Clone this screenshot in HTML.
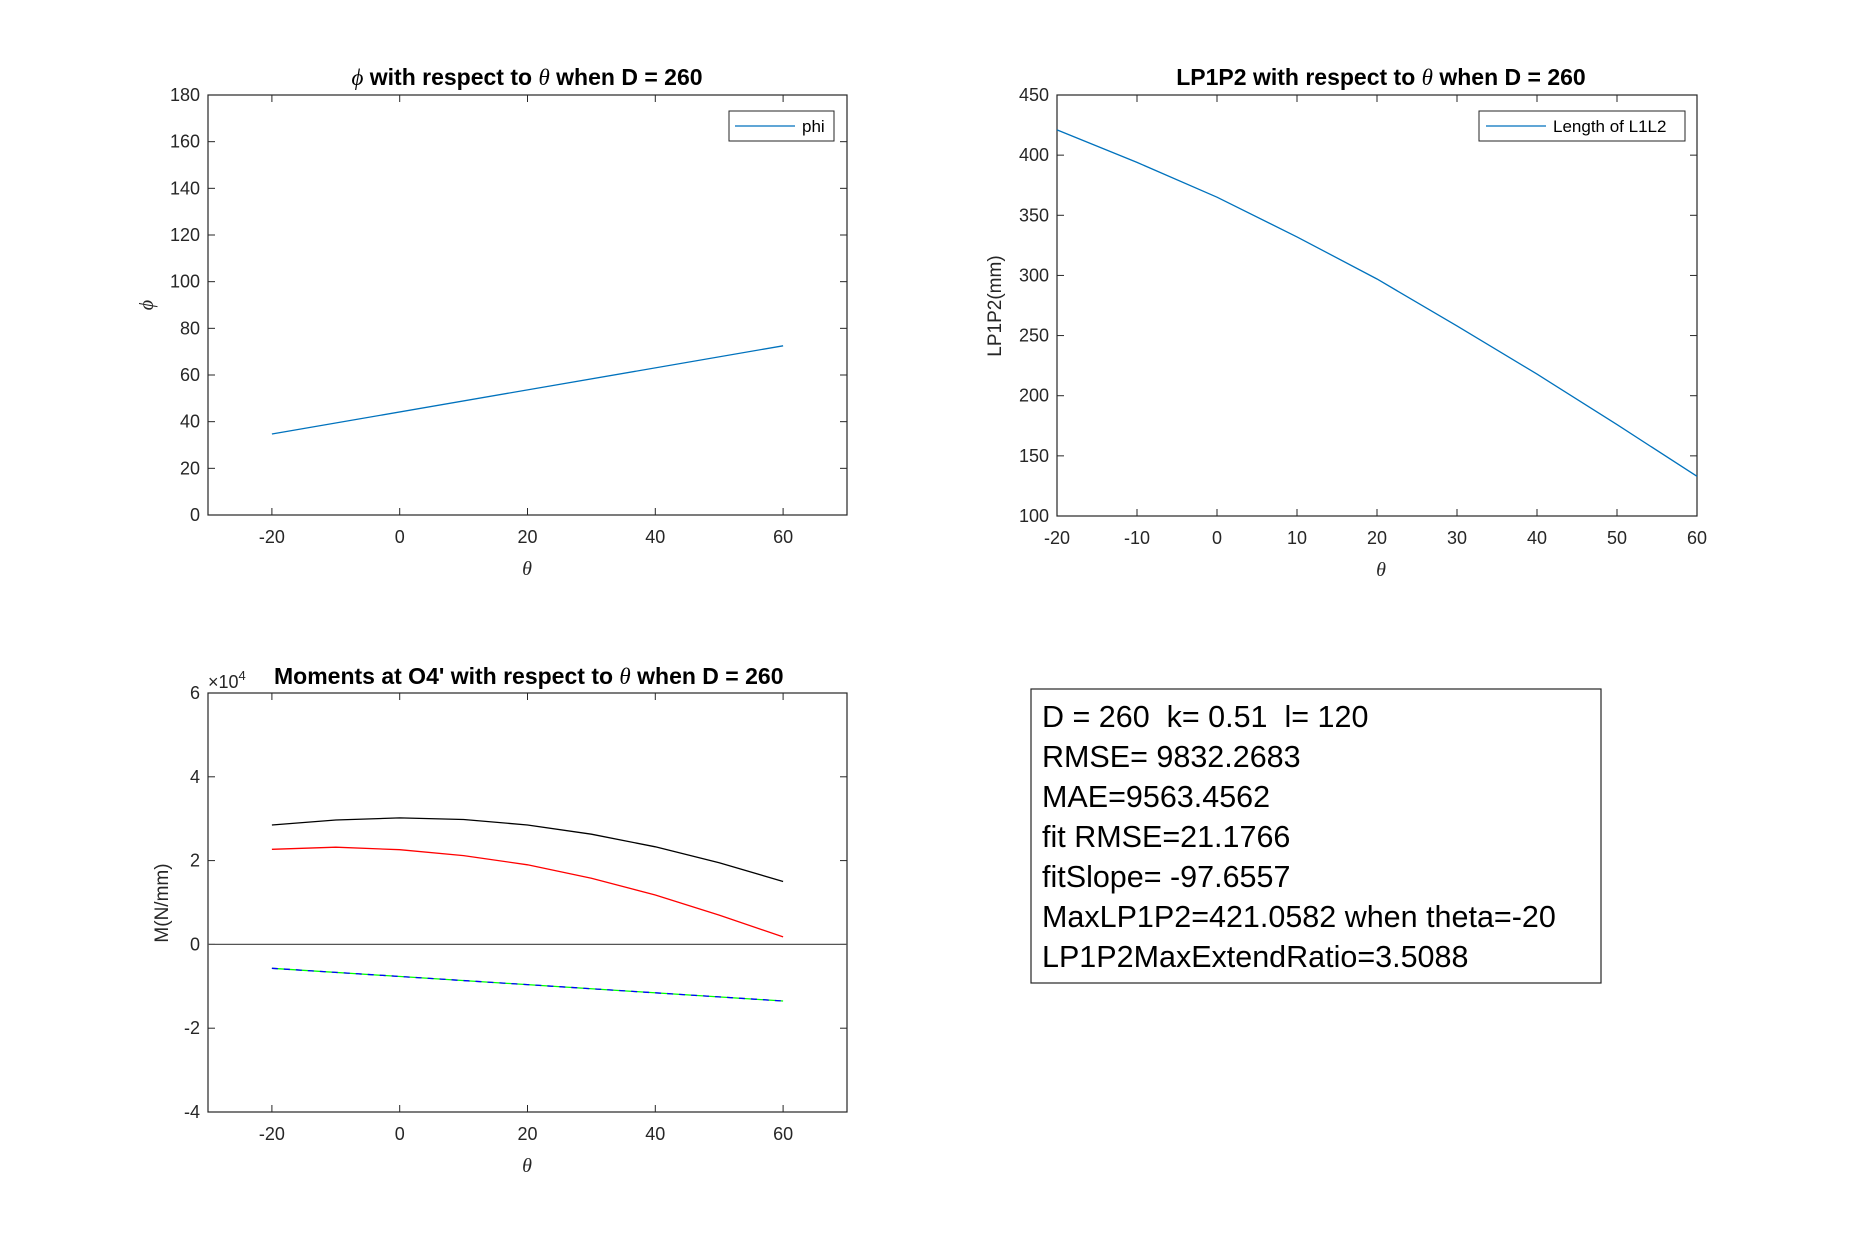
<!DOCTYPE html>
<html><head><meta charset="utf-8"><style>
html,body{margin:0;padding:0;background:#fff;}
svg{display:block;font-family:"Liberation Sans",Arial,sans-serif;}
.pre{white-space:pre;}
</style></head><body>
<svg id="fig" width="1875" height="1250" viewBox="0 0 1875 1250" xmlns="http://www.w3.org/2000/svg">
<rect width="1875" height="1250" fill="#fff"/>
<g id="root"></g>
<g>
<rect x="1031" y="689" width="570" height="294" fill="#fff" stroke="#262626" stroke-width="1.2"/>
<g font-size="30.5" fill="#000">
<text class="pre" x="1042" y="727">D = 260  k= 0.51  l= 120</text>
<text x="1042" y="767">RMSE= 9832.2683</text>
<text x="1042" y="807">MAE=9563.4562</text>
<text x="1042" y="847">fit RMSE=21.1766</text>
<text x="1042" y="887">fitSlope= -97.6557</text>
<text x="1042" y="927">MaxLP1P2=421.0582 when theta=-20</text>
<text x="1042" y="967">LP1P2MaxExtendRatio=3.5088</text>
</g></g>
</svg>
<script>
// ---- data ----
const phiTheta = [-20, 60];
const phiValues = [34.7, 72.5];
const lenTheta = [-20, -10, 0, 10, 20, 30, 40, 50, 60];
const lenValues = [421, 394, 365, 332, 297, 258, 218, 176, 133];
const momTheta = [-20, -10, 0, 10, 20, 30, 40, 50, 60];
const momBlack = [2.85, 2.97, 3.02, 2.98, 2.85, 2.63, 2.33, 1.95, 1.5];
const momRed = [2.27, 2.32, 2.26, 2.12, 1.9, 1.58, 1.18, 0.7, 0.18];
const momLinTheta = [-20, 60];
const momGreen = [-0.57, -1.35];
const momBlue = [-0.57, -1.35];
const ticksX1 = [-20, 0, 20, 40, 60];
const ticksY1 = [0, 20, 40, 60, 80, 100, 120, 140, 160, 180];
const ticksX2 = [-20, -10, 0, 10, 20, 30, 40, 50, 60];
const ticksY2 = [100, 150, 200, 250, 300, 350, 400, 450];
const ticksY3 = [-4, -2, 0, 2, 4, 6];

const NS = "http://www.w3.org/2000/svg";
const root = document.getElementById('root');
function el(tag, attrs, parent, txt){
  const e = document.createElementNS(NS, tag);
  for (const k in attrs) e.setAttribute(k, attrs[k]);
  if (txt !== undefined) e.textContent = txt;
  (parent || root).appendChild(e);
  return e;
}
function axes(name, box, xd, yd, xt, yt){
  const g = el('g', {}, root);
  
  
  const sx = v => box.x + (v - xd[0]) / (xd[1] - xd[0]) * box.w;
  const sy = v => box.y + box.h - (v - yd[0]) / (yd[1] - yd[0]) * box.h;
  el('rect', {x: box.x, y: box.y, width: box.w, height: box.h, fill: '#fff', stroke: '#262626', 'stroke-width': 1.2}, g);
  xt.forEach(t => {
    const x = sx(t);
    el('line', {x1: x, x2: x, y1: box.y + box.h, y2: box.y + box.h - 7, stroke: '#262626'}, g);
    el('line', {x1: x, x2: x, y1: box.y, y2: box.y + 7, stroke: '#262626'}, g);
    const tl = el('text', {x: x, y: box.y + box.h + 28, 'text-anchor': 'middle', 'font-size': 18, fill: '#262626'}, g, String(t));
    
    
  });
  yt.forEach(t => {
    const y = sy(t);
    el('line', {x1: box.x, x2: box.x + 7, y1: y, y2: y, stroke: '#262626'}, g);
    el('line', {x1: box.x + box.w, x2: box.x + box.w - 7, y1: y, y2: y, stroke: '#262626'}, g);
    const tl = el('text', {x: box.x - 8, y: y + 6, 'text-anchor': 'end', 'font-size': 18, fill: '#262626'}, g, String(t));
    
    
  });
  return {g, sx, sy};
}
function line(ax, xs, ys, color, name, dash){
  const d = xs.map((x, i) => (i ? 'L' : 'M') + ax.sx(x).toFixed(1) + ',' + ax.sy(ys[i]).toFixed(1)).join(' ');
  const p = el('path', {d: d, fill: 'none', stroke: color, 'stroke-width': 1.3}, ax.g);
  if (dash) p.setAttribute('stroke-dasharray', dash);
  
  
}

// Plot 1
const a1 = axes('phi-axes', {x: 208, y: 95, w: 639, h: 420}, [-30, 70], [0, 180], ticksX1, ticksY1);
line(a1, phiTheta, phiValues, '#0072BD', 'phi-line');
let t = el('text', {x: 527, y: 85, 'text-anchor': 'middle', 'font-size': 23, 'font-weight': 'bold'}, a1.g);
t.innerHTML = '<tspan font-style="italic" font-weight="normal" font-family="Liberation Serif">ϕ</tspan> with respect to <tspan font-style="italic" font-weight="normal" font-family="Liberation Serif">θ</tspan> when D = 260';


t = el('text', {x: 527, y: 575, 'text-anchor': 'middle', 'font-size': 20, 'font-style': 'italic', 'font-family': 'Liberation Serif', fill: '#262626'}, a1.g, 'θ');


t = el('text', {x: 153, y: 305, 'text-anchor': 'middle', 'font-size': 20, 'font-style': 'italic', 'font-family': 'Liberation Serif', fill: '#262626', transform: 'rotate(-90 153 305)'}, a1.g, 'ϕ');


let lg = el('g', {}, a1.g);


el('rect', {x: 729, y: 111, width: 105, height: 30, fill: '#fff', stroke: '#262626'}, lg);
el('line', {x1: 735, x2: 795, y1: 126, y2: 126, stroke: '#0072BD', 'stroke-width': 1.3}, lg);
el('text', {x: 802, y: 132, 'font-size': 17}, lg, 'phi');

// Plot 2
const a2 = axes('length-axes', {x: 1057, y: 95, w: 640, h: 421}, [-20, 60], [100, 450], ticksX2, ticksY2);
line(a2, lenTheta, lenValues, '#0072BD', 'length-line');
t = el('text', {x: 1381, y: 85, 'text-anchor': 'middle', 'font-size': 23, 'font-weight': 'bold'}, a2.g);
t.innerHTML = 'LP1P2 with respect to <tspan font-style="italic" font-weight="normal" font-family="Liberation Serif">θ</tspan> when D = 260';


t = el('text', {x: 1381, y: 576, 'text-anchor': 'middle', 'font-size': 20, 'font-style': 'italic', 'font-family': 'Liberation Serif', fill: '#262626'}, a2.g, 'θ');


t = el('text', {x: 1001, y: 306, 'text-anchor': 'middle', 'font-size': 19, fill: '#262626', transform: 'rotate(-90 1001 306)'}, a2.g, 'LP1P2(mm)');


lg = el('g', {}, a2.g);


el('rect', {x: 1479, y: 111, width: 206, height: 30, fill: '#fff', stroke: '#262626'}, lg);
el('line', {x1: 1486, x2: 1546, y1: 126, y2: 126, stroke: '#0072BD', 'stroke-width': 1.3}, lg);
el('text', {x: 1553, y: 132, 'font-size': 17}, lg, 'Length of L1L2');

// Plot 3
const a3 = axes('moment-axes', {x: 208, y: 693, w: 639, h: 419}, [-30, 70], [-4, 6], ticksX1, ticksY3);
el('line', {x1: a3.sx(-30), x2: a3.sx(70), y1: a3.sy(0), y2: a3.sy(0), stroke: '#555', 'stroke-width': 1.2}, a3.g);
line(a3, momTheta, momBlack, '#000', 'moment-black-line');
line(a3, momTheta, momRed, '#FF0000', 'moment-red-line');
line(a3, momLinTheta, momGreen, '#00FF00', 'moment-green-line');
line(a3, momLinTheta, momBlue, '#0000FF', 'moment-blue-line', '6 6');
t = el('text', {x: 274, y: 684, 'text-anchor': 'start', 'font-size': 23, 'font-weight': 'bold'}, a3.g);
t.innerHTML = 'Moments at O4\' with respect to <tspan font-style="italic" font-weight="normal" font-family="Liberation Serif">θ</tspan> when D = 260';


t = el('text', {x: 208, y: 688, 'font-size': 18, fill: '#262626'}, a3.g);
t.innerHTML = '×10<tspan dy="-8" font-size="13">4</tspan>';


t = el('text', {x: 527, y: 1172, 'text-anchor': 'middle', 'font-size': 20, 'font-style': 'italic', 'font-family': 'Liberation Serif', fill: '#262626'}, a3.g, 'θ');


t = el('text', {x: 168, y: 903, 'text-anchor': 'middle', 'font-size': 19, fill: '#262626', transform: 'rotate(-90 168 903)'}, a3.g, 'M(N/mm)');


</script>
</body></html>
